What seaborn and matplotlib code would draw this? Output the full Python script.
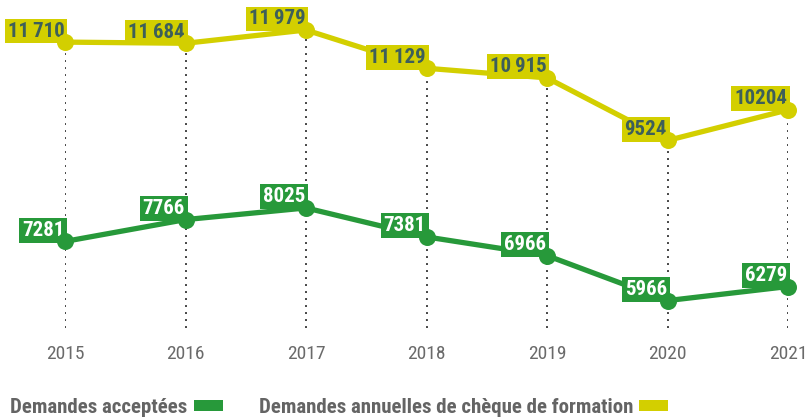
import matplotlib
matplotlib.use("Agg")
import matplotlib.pyplot as plt
from matplotlib.patches import Patch
import pandas as pd
import seaborn as sns

years = [2015, 2016, 2017, 2018, 2019, 2020, 2021]
annual_requests = [11710, 11684, 11979, 11129, 10915, 9524, 10204]
accepted = [7281, 7766, 8025, 7381, 6966, 5966, 6279]
annual_labels = ["11\u2009710", "11\u2009684", "11\u2009979", "11\u2009129", "10\u2009915", "9524", "10204"]
accepted_labels = ["7281", "7766", "8025", "7381", "6966", "5966", "6279"]
series_names = ["Demandes acceptées", "Demandes annuelles de chèque de formation"]

YELLOW = "#d3cf00"
GREEN = "#27993a"
DARK_TEXT = "#3d5f5a"
GRAY = "#646464"
FONT = ["Roboto Condensed", "DejaVu Sans"]

sns.set_theme(style="white")
plt.rcParams["font.family"] = FONT

df = pd.DataFrame({"year": years, "annual": annual_requests, "accepted": accepted})

fig = plt.figure(figsize=(8.06, 4.19), dpi=100)
ax = fig.add_axes([65 / 806, (419 - 328) / 419, (788 - 65) / 806, (328 - 30) / 419])

# dotted guides from each yearly point down to the baseline
ax.vlines(df["year"], 5357, df["annual"], colors="#444444", linestyles=(0, (1, 2.6)),
          linewidth=1.4, zorder=1)

# lines under the labels, dots above them
for col, color in [("annual", YELLOW), ("accepted", GREEN)]:
    sns.lineplot(data=df, x="year", y=col, color=color, linewidth=3.8, ax=ax,
                 clip_on=False, zorder=3)
    sns.scatterplot(data=df, x="year", y=col, color=color, s=150, linewidth=0, ax=ax,
                    clip_on=False, zorder=6)

for x, y, lab in zip(years, annual_requests, annual_labels):
    ax.annotate(lab, (x, y), xytext=(-0.5, 4), textcoords="offset points", ha="right", va="baseline",
                fontsize=15, fontweight="bold", color=DARK_TEXT, zorder=5,
                bbox=dict(boxstyle="square,pad=0.14", facecolor=YELLOW, edgecolor="none"))
for x, y, lab in zip(years, accepted, accepted_labels):
    ax.annotate(lab, (x, y), xytext=(-0.5, 4), textcoords="offset points", ha="right", va="baseline",
                fontsize=15, fontweight="bold", color="white", zorder=5,
                bbox=dict(boxstyle="square,pad=0.14", facecolor=GREEN, edgecolor="none"))

ax.set_xlim(2015, 2021)
ax.set_ylim(5357, 11979)
ax.set_xticks(years)
ax.set_xticklabels([str(y) for y in years], fontsize=14, color="#6a6a6a")
ax.set_yticks([])
ax.tick_params(axis="x", length=0, pad=12)
ax.set_xlabel("")
ax.set_ylabel("")
for s in ax.spines.values():
    s.set_visible(False)

handles = [Patch(facecolor=GREEN, edgecolor="none"), Patch(facecolor=YELLOW, edgecolor="none")]
leg = fig.legend(handles, series_names, loc="lower left", bbox_to_anchor=(0.013, 0.004), ncol=2,
                 frameon=False, markerfirst=False, handlelength=1.4, handleheight=0.43,
                 handletextpad=0.3, columnspacing=1.7, borderpad=0, borderaxespad=0,
                 prop={"family": FONT, "weight": "bold", "size": 15})
for t in leg.get_texts():
    t.set_color(GRAY)

fig.savefig("out.png", dpi=100)
